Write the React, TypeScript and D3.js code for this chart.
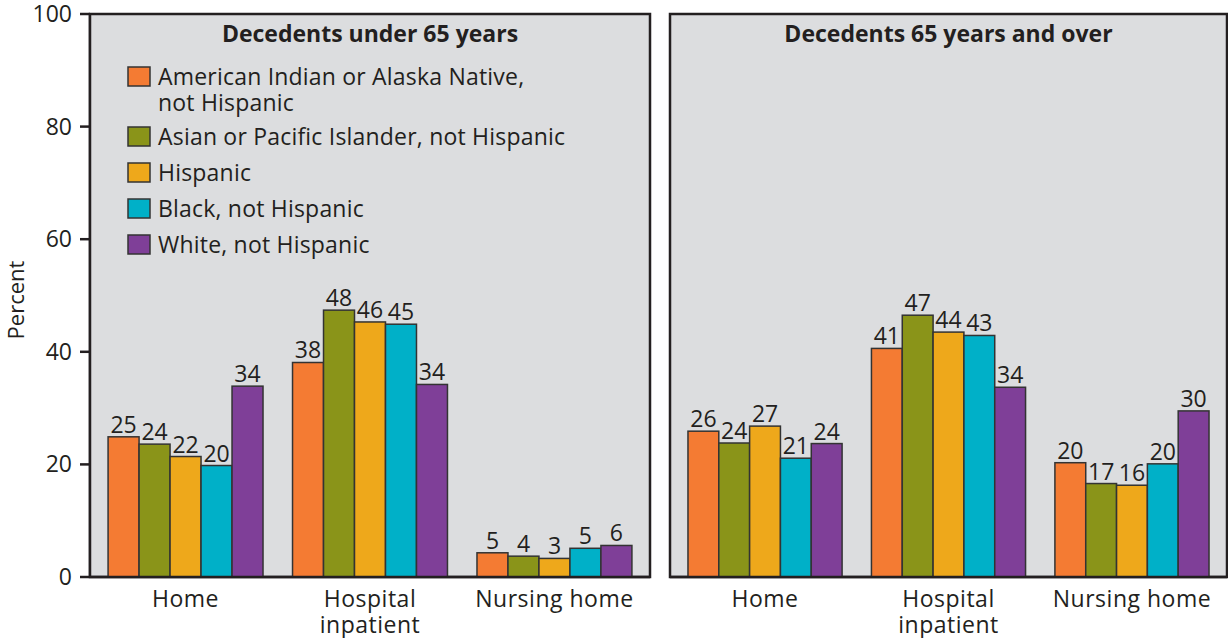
import React from 'react';
import * as d3 from 'd3';

// place of death categories
const categories = ['Home', 'Hospital inpatient', 'Nursing home'];
const categoryLines = [['Home'], ['Hospital', 'inpatient'], ['Nursing home']];

const seriesNames = [
  'American Indian or Alaska Native, not Hispanic',
  'Asian or Pacific Islander, not Hispanic',
  'Hispanic',
  'Black, not Hispanic',
  'White, not Hispanic',
];
const legendLines = [
  ['American Indian or Alaska Native,', 'not Hispanic'],
  ['Asian or Pacific Islander, not Hispanic'],
  ['Hispanic'],
  ['Black, not Hispanic'],
  ['White, not Hispanic'],
];
const colors = ['#f47b33', '#8a9419', '#eea81b', '#00b0c8', '#7f3f98'];

// under 65: rows = series, cols = categories
const under65 = [
  [24.9, 38.1, 4.3],
  [23.6, 47.4, 3.7],
  [21.4, 45.3, 3.3],
  [19.8, 44.9, 5.1],
  [33.9, 34.2, 5.6],
];
const under65Labels = [
  ['25', '38', '5'],
  ['24', '48', '4'],
  ['22', '46', '3'],
  ['20', '45', '5'],
  ['34', '34', '6'],
];

// 65 and over
const over65 = [
  [25.9, 40.6, 20.3],
  [23.8, 46.5, 16.6],
  [26.8, 43.5, 16.3],
  [21.1, 42.9, 20.1],
  [23.7, 33.7, 29.5],
];
const over65Labels = [
  ['26', '41', '20'],
  ['24', '47', '17'],
  ['27', '44', '16'],
  ['21', '43', '20'],
  ['24', '34', '30'],
];

const yTicks = [0, 20, 40, 60, 80, 100];

const FONT = '"Open Sans", sans-serif';
const INK = '#231f20';

const y = d3.scaleLinear().domain([0, 100]).range([577, 14]);

interface PanelProps {
  x0: number;
  x1: number;
  title: string;
  values: number[][];
  labels: string[][];
  legend?: boolean;
}

const Panel: React.FC<PanelProps> = ({ x0, x1, title, values, labels, legend }) => {
  const xOuter = d3.scaleBand<string>()
    .domain(categories)
    .range([x0, x1])
    .paddingInner(0.16)
    .paddingOuter(0.098);
  const xInner = d3.scaleBand<string>()
    .domain(seriesNames)
    .range([0, xOuter.bandwidth()]);

  return (
    <g>
      <rect x={x0} y={y(100)} width={x1 - x0} height={y(0) - y(100)} fill="#dcdddf" stroke={INK} strokeWidth={2.5} />
      <text x={(x0 + x1) / 2} y={42} textAnchor="middle" fontWeight="bold" fontSize={23} fill={INK}>
        {title}
      </text>

      {categories.map((c, ci) => (
        <g key={c}>
          {seriesNames.map((s, si) => {
            const bx = (xOuter(c) as number) + (xInner(s) as number);
            const v = values[si][ci];
            return (
              <g key={s}>
                <rect x={bx} y={y(v)} width={xInner.bandwidth()} height={y(0) - y(v)}
                  fill={colors[si]} stroke="#333" strokeWidth={1.5} />
                <text x={bx + xInner.bandwidth() / 2} y={y(v) - 4} textAnchor="middle" fontSize={23} fill={INK}>
                  {labels[si][ci]}
                </text>
              </g>
            );
          })}
          {categoryLines[ci].map((line, li) => (
            <text key={line} x={(xOuter(c) as number) + xOuter.bandwidth() / 2} y={607 + li * 26}
              textAnchor="middle" fontSize={23} letterSpacing={0.5} fill={INK}>
              {line}
            </text>
          ))}
        </g>
      ))}

      {/* baseline */}
      <line x1={x0} x2={x1} y1={y(0)} y2={y(0)} stroke={INK} strokeWidth={2.5} />

      {legend && (() => {
        let top = 67;
        return legendLines.map((lines, i) => {
          const rowTop = top;
          top += 36 + (lines.length - 1) * 24;
          return (
            <g key={i}>
              <rect x={128} y={rowTop} width={22} height={19} fill={colors[i]} stroke="#333" strokeWidth={1.5} />
              {lines.map((line, li) => (
                <text key={li} x={158} y={rowTop + 18 + li * 26} fontSize={23} letterSpacing={0.2} fill={INK}>{line}</text>
              ))}
            </g>
          );
        });
      })()}
    </g>
  );
};

const App: React.FC = () => {
  return (
    <svg width={1228} height={638} style={{ position: 'absolute', left: 0, top: 0, background: '#fff' }}
      fontFamily={FONT}>
      {/* y axis */}
      <line x1={90} x2={90} y1={y(100)} y2={y(0)} stroke={INK} strokeWidth={2.5} />
      {yTicks.map(t => (
        <g key={t}>
          <line x1={80} x2={90} y1={y(t)} y2={y(t)} stroke={INK} strokeWidth={2.5} />
          <text x={72} y={y(t)} dy="0.35em" textAnchor="end" fontSize={23} fill={INK}>{t}</text>
        </g>
      ))}
      <text transform={`translate(24,300) rotate(-90)`} textAnchor="middle" fontSize={22} fill={INK}>Percent</text>

      <Panel x0={90} x1={650} title="Decedents under 65 years" values={under65} labels={under65Labels} legend />
      <Panel x0={670} x1={1227} title="Decedents 65 years and over" values={over65} labels={over65Labels} />
    </svg>
  );
};

export default App;
